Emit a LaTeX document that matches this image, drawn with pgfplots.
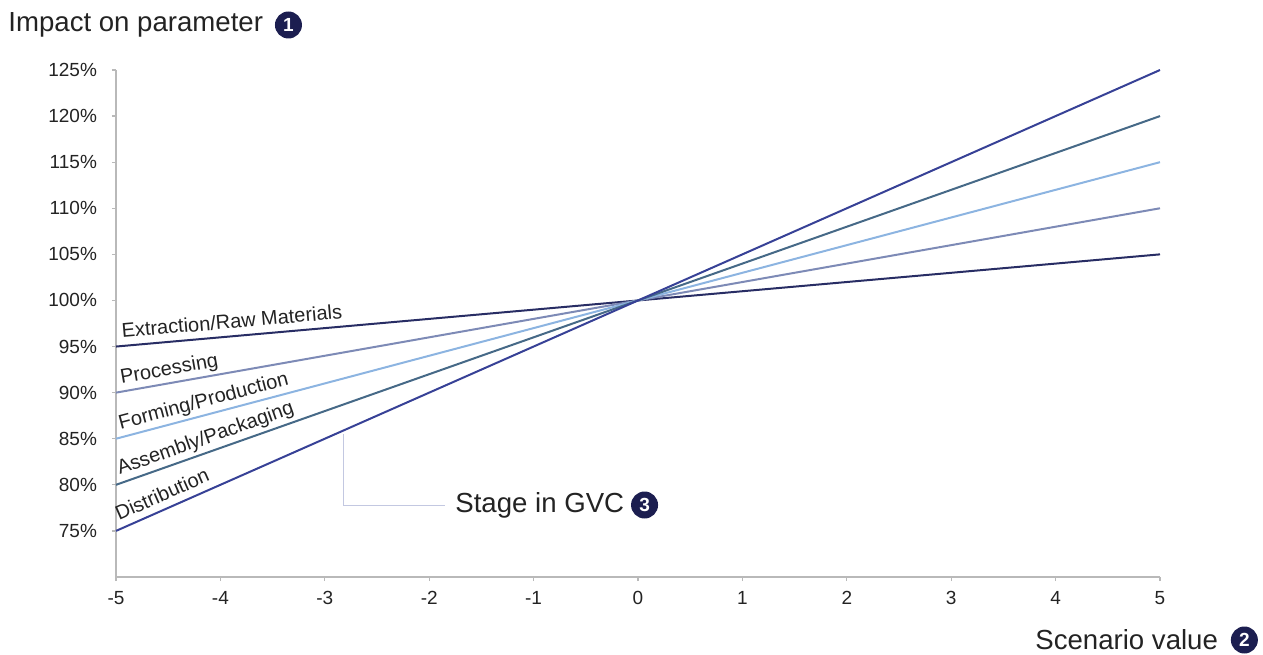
\documentclass[border=0pt]{standalone}
\usepackage{pgfplots}
\pgfplotsset{compat=1.18}
\usetikzlibrary{calc}
\usepackage{fontspec}
\setmainfont{Liberation Sans}
\definecolor{cDist}{RGB}{55,65,150}
\definecolor{cAssm}{RGB}{70,105,135}
\definecolor{cForm}{RGB}{140,180,225}
\definecolor{cProc}{RGB}{125,138,182}
\definecolor{cExtr}{RGB}{40,45,100}
\definecolor{cCirc}{RGB}{28,30,80}
\definecolor{cAxis}{RGB}{185,185,185}
\definecolor{cCall}{RGB}{195,200,225}
\definecolor{cTxt}{RGB}{35,35,35}
\begin{document}
\begin{tikzpicture}
\useasboundingbox (-58pt,-38.5pt) rectangle (573.5pt,288.5pt);
\begin{axis}[
  at={(0,0)}, anchor=south west,
  scale only axis, width=522pt, height=253.5pt,
  xmin=-5, xmax=5, ymin=70, ymax=125,
  axis x line*=bottom, axis y line*=left,
  axis line style={cAxis, line width=1.1pt, -},
  xtick={-5,-4,-3,-2,-1,0,1,2,3,4,5},
  xticklabels={-5,-4,-3,-2,-1,0,1,2,3,4,5},
  ytick={75,80,85,90,95,100,105,110,115,120,125},
  yticklabels={75\%,80\%,85\%,90\%,95\%,100\%,105\%,110\%,115\%,120\%,125\%},
  tick align=outside, major tick length=2pt,
  tick style={cAxis, line width=0.6pt},
  ticklabel style={font=\fontsize{9.5pt}{11pt}\selectfont, text=cTxt},
  xticklabel style={yshift=-1.5pt},
  yticklabel style={xshift=-4pt},
  clip=false,
]
\addplot[cExtr, line width=1pt] coordinates {(-5,95) (5,105)}
  node[pos=0, sloped, anchor=south west, inner xsep=3pt, inner ysep=3.5pt, text depth=0pt, text=cTxt, font=\fontsize{10pt}{12pt}\selectfont] {Extraction/Raw Materials};
\addplot[cProc, line width=1pt] coordinates {(-5,90) (5,110)}
  node[pos=0, sloped, anchor=south west, inner xsep=3pt, inner ysep=3.5pt, text depth=0pt, text=cTxt, font=\fontsize{10pt}{12pt}\selectfont] {Processing};
\addplot[cForm, line width=1pt] coordinates {(-5,85) (5,115)}
  node[pos=0, sloped, anchor=south west, inner xsep=3pt, inner ysep=3.5pt, text depth=0pt, text=cTxt, font=\fontsize{10pt}{12pt}\selectfont] {Forming/Production};
\addplot[cAssm, line width=1pt] coordinates {(-5,80) (5,120)}
  node[pos=0, sloped, anchor=south west, inner xsep=3pt, inner ysep=3.5pt, text depth=0pt, text=cTxt, font=\fontsize{10pt}{12pt}\selectfont] {Assembly/Packaging};
\addplot[cDist, line width=1pt] coordinates {(-5,75) (5,125)}
  node[pos=0, sloped, anchor=south west, inner xsep=3pt, inner ysep=3.5pt, text depth=0pt, text=cTxt, font=\fontsize{10pt}{12pt}\selectfont] {Distribution};
\addplot[cCall, line width=0.6pt] coordinates {(-2.82,85.5) (-2.82,77.8) (-1.85,77.8)};
\end{axis}
% texts and circled numbers
\node[anchor=west, inner sep=0pt, text=cTxt, font=\fontsize{13.8pt}{16pt}\selectfont] (t1) at (-54pt,276pt) {Impact on parameter};
\node[circle, fill=cCirc, inner sep=0pt, minimum size=13.5pt, text=white, font=\bfseries\fontsize{9.5pt}{10pt}\selectfont] at ($(t1.east)+(12.5pt,0)$) {1};
\node[anchor=west, inner sep=0pt, text=cTxt, font=\fontsize{13.8pt}{16pt}\selectfont] (t2) at (459.5pt,-31.5pt) {Scenario value};
\node[circle, fill=cCirc, inner sep=0pt, minimum size=13.5pt, text=white, font=\bfseries\fontsize{9.5pt}{10pt}\selectfont] at ($(t2.east)+(13pt,0)$) {2};
\node[anchor=west, inner sep=0pt, text=cTxt, font=\fontsize{13.8pt}{16pt}\selectfont] (t3) at (169.5pt,36pt) {Stage in GVC};
\node[circle, fill=cCirc, inner sep=0pt, minimum size=13.5pt, text=white, font=\bfseries\fontsize{9.5pt}{10pt}\selectfont] at ($(t3.east)+(10pt,0)$) {3};
\end{tikzpicture}
\end{document}
